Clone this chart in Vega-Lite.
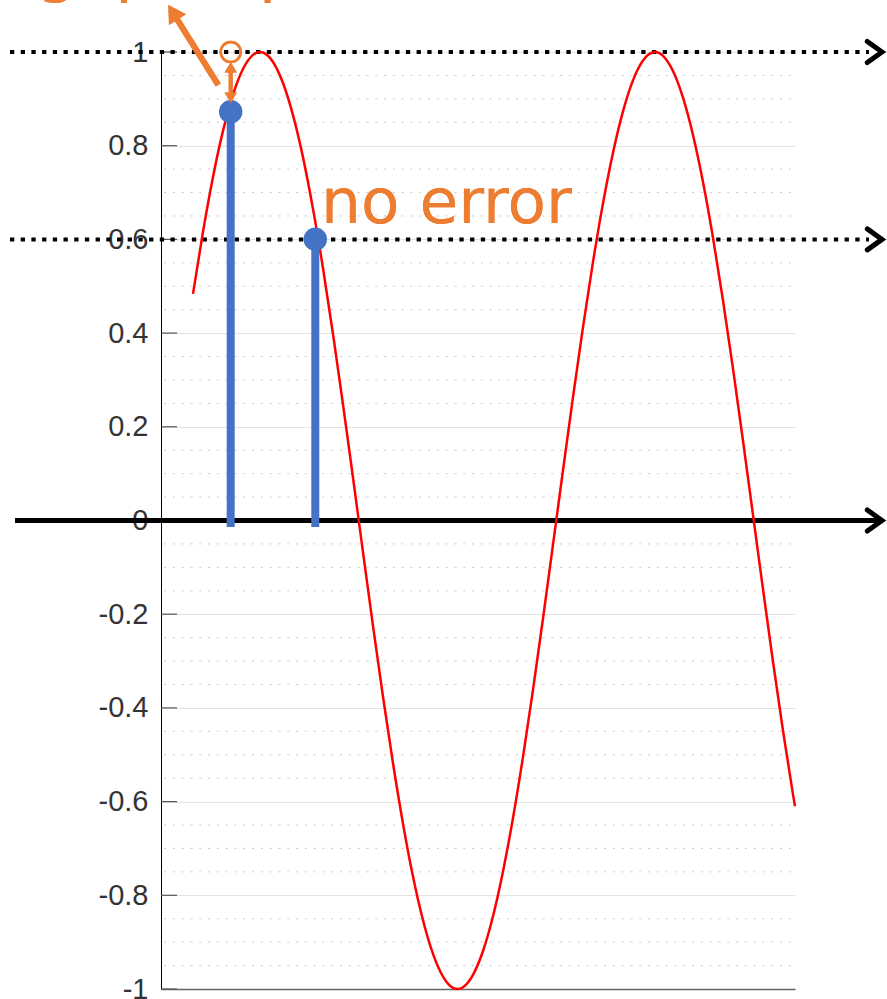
{
  "$schema": "https://vega.github.io/schema/vega-lite/v6.json",
  "width": 634,
  "height": 937,
  "autosize": {"type": "none"},
  "padding": {"left": 161, "top": 52, "right": 92, "bottom": 10},
  "background": "white",
  "config": {"view": {"stroke": null}},
  "datasets": {
    "sine": [
      {"t": 32, "v": 0.4838}, {"t": 42, "v": 0.6163}, {"t": 52, "v": 0.7333}, {"t": 62, "v": 0.8317},
      {"t": 72, "v": 0.9092}, {"t": 82, "v": 0.9637}, {"t": 92, "v": 0.9938}, {"t": 99, "v": 1},
      {"t": 102, "v": 0.9989}, {"t": 112, "v": 0.9787}, {"t": 122, "v": 0.9338}, {"t": 132, "v": 0.8652},
      {"t": 142, "v": 0.7751}, {"t": 152, "v": 0.6651}, {"t": 162, "v": 0.5385}, {"t": 172, "v": 0.3982},
      {"t": 182, "v": 0.2479}, {"t": 192, "v": 0.0913}, {"t": 202, "v": -0.0676}, {"t": 212, "v": -0.2248},
      {"t": 222, "v": -0.3763}, {"t": 232, "v": -0.5182}, {"t": 242, "v": -0.6471}, {"t": 252, "v": -0.76},
      {"t": 262, "v": -0.8533}, {"t": 272, "v": -0.925}, {"t": 282, "v": -0.9735}, {"t": 292, "v": -0.9975},
      {"t": 296.5, "v": -1}, {"t": 302, "v": -0.9961}, {"t": 312, "v": -0.9697}, {"t": 322, "v": -0.9189},
      {"t": 332, "v": -0.8446}, {"t": 342, "v": -0.749}, {"t": 352, "v": -0.6349}, {"t": 362, "v": -0.5045},
      {"t": 372, "v": -0.3614}, {"t": 382, "v": -0.2092}, {"t": 392, "v": -0.0516}, {"t": 402, "v": 0.1072},
      {"t": 412, "v": 0.2634}, {"t": 422, "v": 0.4129}, {"t": 432, "v": 0.5519}, {"t": 442, "v": 0.6769},
      {"t": 452, "v": 0.7851}, {"t": 462, "v": 0.8734}, {"t": 472, "v": 0.9394}, {"t": 482, "v": 0.9818},
      {"t": 492, "v": 0.9995}, {"t": 494, "v": 1}, {"t": 502, "v": 0.9919}, {"t": 512, "v": 0.9593},
      {"t": 522, "v": 0.9024}, {"t": 532, "v": 0.8228}, {"t": 542, "v": 0.7224}, {"t": 552, "v": 0.6035},
      {"t": 562, "v": 0.4697}, {"t": 572, "v": 0.3241}, {"t": 582, "v": 0.1702}, {"t": 592, "v": 0.0119},
      {"t": 602, "v": -0.1466}, {"t": 612, "v": -0.3015}, {"t": 622, "v": -0.4487}, {"t": 632, "v": -0.5846},
      {"t": 634, "v": -0.6101}
    ],
    "samples": [{"t": 69.7, "v": 0.8726}, {"t": 154.3, "v": 0.6002}],
    "minor": [
      {"v": -0.95}, {"v": -0.9}, {"v": -0.85}, {"v": -0.75}, {"v": -0.7}, {"v": -0.65},
      {"v": -0.55}, {"v": -0.5}, {"v": -0.45}, {"v": -0.35}, {"v": -0.3}, {"v": -0.25},
      {"v": -0.15}, {"v": -0.1}, {"v": -0.05}, {"v": 0.05}, {"v": 0.1}, {"v": 0.15},
      {"v": 0.25}, {"v": 0.3}, {"v": 0.35}, {"v": 0.45}, {"v": 0.5}, {"v": 0.55},
      {"v": 0.65}, {"v": 0.7}, {"v": 0.75}, {"v": 0.85}, {"v": 0.9}, {"v": 0.95}
    ],
    "major": [
      {"v": -1}, {"v": -0.8}, {"v": -0.6}, {"v": -0.4}, {"v": -0.2}, {"v": 0},
      {"v": 0.2}, {"v": 0.4}, {"v": 0.6}, {"v": 0.8}, {"v": 1}
    ],
    "levels": [{"v": 1}, {"v": 0.6}],
    "heads": [{"v": 1}, {"v": 0.6}, {"v": 0}]
  },
  "layer": [
    {
      "data": {"name": "minor"},
      "mark": {"type": "rule", "color": "#c8c8c8", "strokeWidth": 1, "strokeDash": [2, 6.8]},
      "encoding": {
        "y": {"field": "v", "type": "quantitative", "scale": {"domain": [-1, 1], "nice": false, "zero": false}},
        "x": {"datum": 3, "type": "quantitative", "scale": {"domain": [0, 634], "nice": false, "zero": false}},
        "x2": {"datum": 632}
      }
    },
    {
      "data": {"name": "sine"},
      "mark": {"type": "line", "color": "#ff0000", "strokeWidth": 2.5, "opacity": 0},
      "encoding": {
        "x": {"field": "t", "type": "quantitative",
          "axis": {"orient": "bottom", "labels": false, "ticks": false, "grid": false, "title": null, "domainColor": "#666666", "domainWidth": 1.3}},
        "y": {"field": "v", "type": "quantitative",
          "axis": {"values": [-1, -0.8, -0.6, -0.4, -0.2, 0, 0.2, 0.4, 0.6, 0.8, 1],
            "labelExpr": "'' + datum.value", "grid": true, "gridColor": "#e3e3e3", "gridWidth": 1,
            "ticks": false, "domainColor": "#000000", "domainWidth": 1, "labelPadding": 13,
            "labelFont": "Liberation Sans", "labelFontSize": 29, "labelColor": "#333333",
            "labelBaseline": "middle", "title": null}}
      }
    },
    {
      "data": {"name": "major"},
      "mark": {"type": "rule", "color": "#555555", "strokeWidth": 1.2},
      "encoding": {
        "y": {"field": "v", "type": "quantitative"},
        "x": {"datum": 0, "type": "quantitative"},
        "x2": {"datum": 16}
      }
    },
    {
      "data": {"name": "levels"},
      "mark": {"type": "rule", "color": "#000000", "strokeWidth": 4, "strokeDash": [4.3, 6.4]},
      "encoding": {
        "y": {"field": "v", "type": "quantitative"},
        "x": {"datum": -151, "type": "quantitative"},
        "x2": {"datum": 708}
      }
    },
    {
      "data": {"name": "levels"},
      "mark": {"type": "rule", "color": "#000000", "strokeWidth": 5},
      "encoding": {
        "y": {"datum": 0, "type": "quantitative"},
        "x": {"datum": -146, "type": "quantitative"},
        "x2": {"datum": 719}
      }
    },
    {
      "data": {"name": "heads"},
      "mark": {"type": "point", "shape": "M-1.4,-1L0,0L-1.4,1", "size": 441, "filled": false, "stroke": "#000000", "strokeWidth": 5, "strokeCap": "round", "strokeJoin": "miter", "opacity": 1},
      "encoding": {
        "y": {"field": "v", "type": "quantitative"},
        "x": {"datum": 721, "type": "quantitative"}
      }
    },
    {
      "data": {"name": "sine"},
      "mark": {"type": "line", "color": "#ff0000", "strokeWidth": 2.5, "interpolate": "monotone"},
      "encoding": {
        "x": {"field": "t", "type": "quantitative"},
        "y": {"field": "v", "type": "quantitative"}
      }
    },
    {
      "data": {"name": "samples"},
      "mark": {"type": "rule", "color": "#4472c4", "strokeWidth": 8},
      "encoding": {
        "x": {"field": "t", "type": "quantitative"},
        "y": {"field": "v", "type": "quantitative"},
        "y2": {"datum": -0.0139}
      }
    },
    {
      "data": {"name": "samples"},
      "mark": {"type": "point", "shape": "circle", "filled": true, "color": "#4472c4", "size": 550, "opacity": 1},
      "encoding": {
        "x": {"field": "t", "type": "quantitative"},
        "y": {"field": "v", "type": "quantitative"}
      }
    },
    {
      "data": {"name": "levels"},
      "mark": {"type": "point", "shape": "circle", "filled": false, "stroke": "#ed7d31", "strokeWidth": 2.5, "size": 400, "opacity": 1},
      "encoding": {
        "x": {"datum": 69.7, "type": "quantitative"},
        "y": {"datum": 1, "type": "quantitative"}
      }
    },
    {
      "data": {"name": "levels"},
      "mark": {"type": "rule", "color": "#ed7d31", "strokeWidth": 4},
      "encoding": {
        "x": {"datum": 69.7, "type": "quantitative"},
        "y": {"datum": 0.97, "type": "quantitative"},
        "y2": {"datum": 0.9}
      }
    },
    {
      "data": {"name": "levels"},
      "mark": {"type": "point", "shape": "triangle-up", "filled": true, "color": "#ed7d31", "size": 150, "opacity": 1},
      "encoding": {
        "x": {"datum": 69.7, "type": "quantitative"},
        "y": {"datum": 0.9675, "type": "quantitative"}
      }
    },
    {
      "data": {"name": "levels"},
      "mark": {"type": "point", "shape": "triangle-down", "filled": true, "color": "#ed7d31", "size": 150, "opacity": 1},
      "encoding": {
        "x": {"datum": 69.7, "type": "quantitative"},
        "y": {"datum": 0.9022, "type": "quantitative"}
      }
    },
    {
      "data": {"name": "levels"},
      "mark": {"type": "rule", "color": "#ed7d31", "strokeWidth": 6},
      "encoding": {
        "x": {"datum": 57.3, "type": "quantitative"},
        "y": {"datum": 0.9296, "type": "quantitative"},
        "x2": {"datum": 14},
        "y2": {"datum": 1.0768}
      }
    },
    {
      "data": {"name": "levels"},
      "mark": {"type": "point", "shape": "triangle-up", "filled": true, "color": "#ed7d31", "size": 400, "angle": 328, "opacity": 1},
      "encoding": {
        "x": {"datum": 11.9, "type": "quantitative"},
        "y": {"datum": 1.0847, "type": "quantitative"}
      }
    },
    {
      "data": {"name": "levels"},
      "mark": {"type": "text", "text": "no error", "font": "DejaVu Sans", "fontSize": 63, "color": "#ed7d31", "align": "left", "baseline": "alphabetic"},
      "encoding": {
        "x": {"datum": 160, "type": "quantitative"},
        "y": {"datum": 0.6356, "type": "quantitative"}
      }
    },
    {
      "data": {"name": "levels"},
      "mark": {"type": "text", "text": "gap to peak", "font": "DejaVu Sans", "fontSize": 63, "color": "#ed7d31", "align": "left", "baseline": "alphabetic"},
      "encoding": {
        "x": {"datum": -124, "type": "quantitative"},
        "y": {"datum": 1.1323, "type": "quantitative"}
      }
    }
  ]
}
